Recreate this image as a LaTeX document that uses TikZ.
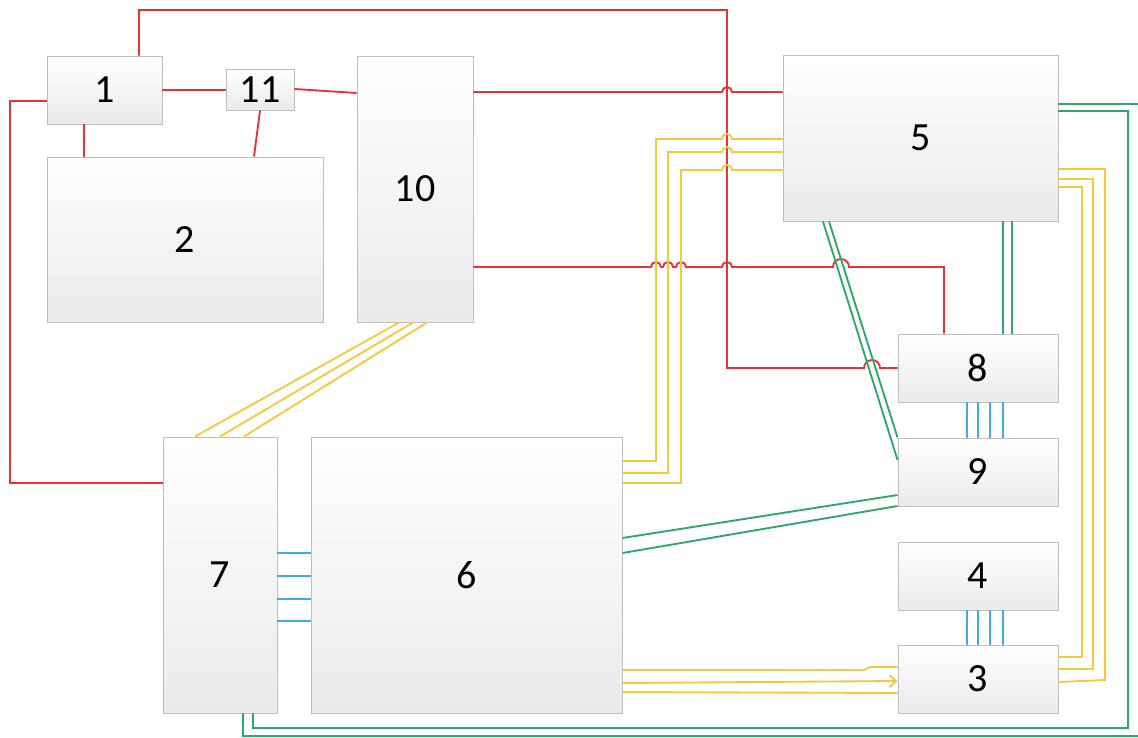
\documentclass[tikz,border=0pt]{standalone}
\usepackage{fontspec}
\setmainfont{Carlito}
\usetikzlibrary{arrows.meta,shadows}
\definecolor{cred}{RGB}{230,50,56}
\definecolor{cyel}{RGB}{245,200,66}
\definecolor{cgrn}{RGB}{45,168,105}
\definecolor{cblu}{RGB}{60,175,225}
\tikzset{
  box/.style={draw=black!25, line width=0.7pt, top color=white, bottom color=black!8,
    inner sep=0pt, font=\fontsize{30}{36}\selectfont,
    drop shadow={shadow xshift=1pt, shadow yshift=-1pt, opacity=0.25}},
  rl/.style={cred, line width=1.4pt},
  yl/.style={cyel, line width=1.4pt},
  gl/.style={cgrn, line width=1.4pt},
  bl/.style={cblu, line width=1.4pt},
}
\begin{document}
\begin{tikzpicture}[x=0.75pt,y=-0.75pt]
\useasboundingbox (0,0) rectangle (1138,738);
% boxes
\node[box, minimum width=86.25pt, minimum height=51pt] (b1) at (104.5,90) {1};
\node[box, minimum width=51pt, minimum height=30.75pt] (b11) at (260,89.5) {11};
\node[box, minimum width=207pt, minimum height=123.75pt] (b2) at (185,239.5) {2};
\node[box, minimum width=87pt, minimum height=199.5pt] (b10) at (415,189) {10};
\node[box, minimum width=206.25pt, minimum height=124.5pt] (b5) at (920.5,138) {5};
\node[box, minimum width=120pt, minimum height=51pt] (b8) at (978,368) {8};
\node[box, minimum width=120pt, minimum height=51pt] (b9) at (978,472) {9};
\node[box, minimum width=120pt, minimum height=51pt] (b4) at (978,576) {4};
\node[box, minimum width=120pt, minimum height=51pt] (b3) at (978,679) {3};
\node[box, minimum width=233.25pt, minimum height=207pt] (b6) at (466.5,575) {6};
\node[box, minimum width=85.5pt, minimum height=207pt] (b7) at (220,575) {7};
% red
\draw[rl] (b1.north -| 139,0) -- (139,10) -- (727,10) -- (727,368) -- (864,368)
  arc[start angle=180,end angle=360,radius=8] -- (b8.west |- 0,368);
\draw[rl] (b1.west |- 0,101) -- (10,101) -- (10,483) -- (b7.west |- 0,483);
\draw[rl] (b1.east |- 0,90) -- (b11.west |- 0,90);
\draw[rl] (b11.east |- 0,89) -- (b10.west |- 0,93);
\draw[rl] (b1.south -| 84,0) -- (b2.north -| 84,0);
\draw[rl] (b11.south -| 260,0) -- (b2.north -| 254,0);
\draw[rl] (b10.east |- 0,92) -- (722,92) arc[start angle=180,end angle=360,radius=5] -- (b5.west |- 0,92);
\draw[rl] (b10.east |- 0,267) -- (651,267) arc[start angle=180,end angle=360,radius=5]
  -- (663,267) arc[start angle=180,end angle=360,radius=5]
  -- (676,267) arc[start angle=180,end angle=360,radius=5]
  -- (722,267) arc[start angle=180,end angle=360,radius=5]
  -- (833,267) arc[start angle=180,end angle=360,radius=8]
  -- (944,267) -- (b8.north -| 944,0);
% yellow
\draw[yl] (b6.east |- 0,461) -- (656,461) -- (656,139) -- (722,139)
  arc[start angle=180,end angle=360,radius=5] -- (b5.west |- 0,139);
\draw[yl] (b6.east |- 0,473) -- (668,473) -- (668,152) -- (722,152)
  arc[start angle=180,end angle=360,radius=5] -- (b5.west |- 0,152);
\draw[yl] (b6.east |- 0,483) -- (681,483) -- (681,170) -- (722,170)
  arc[start angle=180,end angle=360,radius=5] -- (b5.west |- 0,170);
\draw[yl] (b10.south -| 399,0) -- (b7.north -| 195,0);
\draw[yl] (b10.south -| 413,0) -- (b7.north -| 220,0);
\draw[yl] (b10.south -| 427,0) -- (b7.north -| 244,0);
\draw[yl] (b5.east |- 0,169) -- (1105,169) -- (1105,680) -- (b3.east |- 0,682);
\draw[yl] (b5.east |- 0,179) -- (1093,179) -- (1093,669) -- (b3.east |- 0,669);
\draw[yl] (b5.east |- 0,187) -- (1082,187) -- (1082,657) -- (b3.east |- 0,657);
\draw[yl] (b6.east |- 0,670) -- (864,670) -- (870,667) -- (b3.west |- 0,667);
\draw[yl,-{Straight Barb[length=5pt,width=9pt]}] (b6.east |- 0,683) -- (b3.west |- 0,681);
\draw[yl] (b6.east |- 0,692) -- (b3.west |- 0,693);
% green
\draw[gl] (b5.east |- 0,104) -- (1141,104) -- (1141,736) -- (243,736) -- (b7.south -| 243,0);
\draw[gl] (b5.east |- 0,111) -- (1128,111) -- (1128,728) -- (253,728) -- (b7.south -| 253,0);
\draw[gl] (b5.south -| 1003,0) -- (b8.north -| 1003,0);
\draw[gl] (b5.south -| 1012,0) -- (b8.north -| 1012,0);
\draw[gl] (b5.south -| 823,0) -- (b9.west |- 0,460);
\draw[gl] (b5.south -| 829,0) -- (b9.north west);
\draw[gl] (b6.east |- 0,538) -- (b9.west |- 0,495);
\draw[gl] (b6.east |- 0,553) -- (b9.west |- 0,506);
% blue
\foreach \x in {967,978,990,1003} {
  \draw[bl] (b8.south -| \x,0) -- (b9.north -| \x,0);
  \draw[bl] (b4.south -| \x,0) -- (b3.north -| \x,0);
}
\foreach \y in {553,576,599,621} {
  \draw[bl] (b7.east |- 0,\y) -- (b6.west |- 0,\y);
}
\end{tikzpicture}
\end{document}
